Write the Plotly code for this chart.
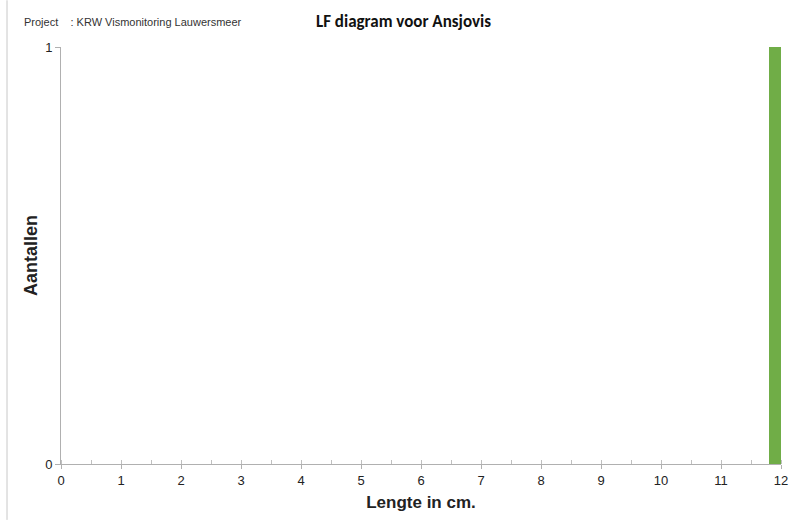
import plotly.graph_objects as go

lengths = [11.9]
counts = [1]
x_ticks = list(range(0, 13))
y_ticks = [0, 1]

fig = go.Figure()
fig.add_trace(go.Bar(x=lengths, y=counts, width=0.2, marker=dict(color="#70ad47", line=dict(width=0)), showlegend=False))

fig.update_layout(
    width=790, height=520,
    margin=dict(l=61, r=9, t=47, b=56, autoexpand=False),
    paper_bgcolor="white", plot_bgcolor="white",
    font=dict(family="Arial, Liberation Sans", color="#222"),
    xaxis=dict(range=[0, 12], tickvals=x_ticks, showgrid=False, showline=True, linecolor="#b0b0b0",
               ticks="outside", ticklen=4, tickcolor="#b0b0b0", tickfont=dict(size=13),
               ticklabeloverflow="allow", automargin=False,
               minor=dict(dtick=0.5, ticks="inside", ticklen=4, tickcolor="#c0c0c0"),
               title=dict(text="<b>Lengte in cm.</b>", font=dict(size=17), standoff=9), zeroline=False),
    yaxis=dict(range=[0, 1], tickvals=y_ticks, showgrid=True, gridcolor="#e4e4e4", showline=True, linecolor="#b0b0b0",
               ticks="outside", ticklen=5, tickcolor="#b0b0b0", tickfont=dict(size=13), automargin=False,
               title=dict(text="<b>Aantallen</b>", font=dict(size=18), standoff=2), zeroline=False),
    annotations=[
        dict(text="Project&nbsp;&nbsp;&nbsp;&nbsp;: KRW Vismonitoring Lauwersmeer", xref="paper", yref="paper",
             x=-0.0542, y=1.06, xanchor="left", yanchor="middle", showarrow=False,
             font=dict(size=11, family="Arial, Liberation Sans", color="#333")),
        dict(text="<b>LF diagram voor Ansjovis</b>", xref="paper", yref="paper",
             x=0.4757, y=1.06, xanchor="center", yanchor="middle", showarrow=False,
             font=dict(size=17, family="Carlito, Calibri, Lato, sans-serif", color="#111")),
    ],
    shapes=[dict(type="line", xref="paper", yref="paper", x0=-0.075, x1=-0.075, y0=-0.134, y1=1.112,
                 line=dict(color="#c8c8c8", width=1))],
)

fig.write_html("out.html", config={"displayModeBar": False},
               post_script="document.body.style.margin='0';document.body.style.overflow='hidden';")
